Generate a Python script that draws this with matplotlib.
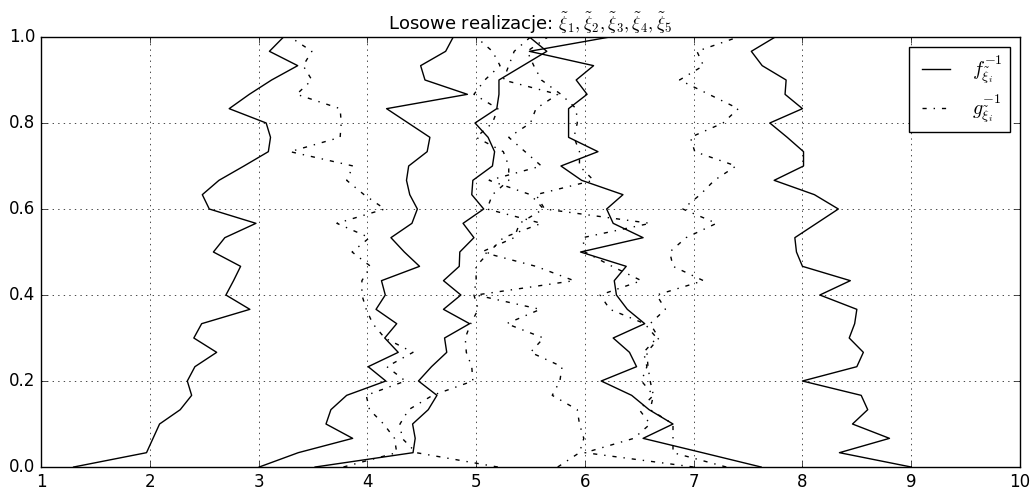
import numpy as np
import matplotlib
matplotlib.use('Agg')
import matplotlib.pyplot as plt

plt.style.use('classic')

# quantile levels (31 points from 0 to 1)
levels = np.linspace(0.0, 1.0, 31)

# inverse cdfs f^-1 (solid), one list per realization
f_inv_1 = [1.30, 1.97, 2.03, 2.09, 2.28, 2.385, 2.345, 2.415, 2.615, 2.405, 2.477,
           2.92, 2.70, 2.77, 2.835, 2.585, 2.69, 2.976, 2.547, 2.483, 2.636,
           2.866, 3.09, 3.11, 3.07, 2.73, 2.915, 3.12, 3.36, 3.10, 3.23]
f_inv_2 = [3.006, 3.365, 3.865, 3.62, 3.665, 3.81, 4.17, 4.008, 4.284, 4.16, 4.27,
           4.08, 4.165, 4.13, 4.48, 4.34, 4.217, 4.41, 4.46, 4.39, 4.36,
           4.38, 4.55, 4.575, 4.376, 4.177, 4.92, 4.53, 4.49, 4.72, 4.79]
f_inv_3 = [3.52, 4.42, 4.44, 4.416, 4.56, 4.64, 4.47, 4.59, 4.73, 4.71, 4.94,
           4.70, 4.86, 4.70, 4.845, 4.85, 4.98, 4.88, 5.07, 4.96, 4.97,
           5.15, 5.17, 5.11, 4.99, 5.19, 5.21, 5.21, 5.43, 5.65, 5.49]
f_inv_4 = [7.62, 7.08, 6.535, 6.81, 6.59, 6.43, 6.15, 6.475, 6.41, 6.26, 6.55,
           6.39, 6.29, 6.27, 6.38, 5.96, 6.535, 6.26, 6.20, 6.35, 5.97,
           5.78, 6.12, 5.85, 5.85, 5.85, 6.02, 5.92, 6.08, 5.49, 6.23]
f_inv_5 = [9.0, 8.34, 8.80, 8.46, 8.60, 8.54, 8.0, 8.50, 8.56, 8.43, 8.48,
           8.50, 8.16, 8.44, 8.0, 7.945, 7.93, 8.13, 8.33, 8.11, 7.74,
           8.01, 8.01, 7.86, 7.70, 8.0, 7.84, 7.85, 7.63, 7.53, 7.75]

# inverse cdfs g^-1 (dash-dot)
g_inv_1 = [3.78, 4.27, 4.25, 4.15, 4.02, 3.99, 4.35, 4.18, 4.42, 4.16, 4.05,
           3.99, 3.95, 3.95, 4.03, 3.86, 4.02, 3.72, 4.16, 3.97, 3.81,
           3.87, 3.29, 3.75, 3.76, 3.75, 3.35, 3.49, 3.41, 3.49, 3.29]
g_inv_2 = [5.2, 4.45, 4.32, 4.3, 4.38, 4.6, 4.97, 4.96, 4.91, 4.9, 4.95,
           5.02, 4.98, 5.0, 5.0, 5.12, 5.25, 5.6, 5.1, 5.15, 5.3,
           5.3, 5.25, 5.0, 5.15, 5.2, 4.98, 5.08, 5.22, 5.15, 5.0]
g_inv_3 = [5.75, 5.95, 5.99, 5.95, 5.93, 5.7, 5.77, 5.79, 5.5, 5.62, 5.28,
           5.59, 5.0, 5.9, 5.55, 5.05, 5.35, 5.4, 5.62, 5.5, 5.12,
           5.6, 5.45, 5.3, 5.5, 5.55, 5.75, 5.25, 5.3, 5.35, 5.5]
g_inv_4 = [7.0, 6.0, 6.45, 6.6, 6.5, 6.63, 6.52, 6.57, 6.54, 6.66, 6.55,
           6.23, 6.14, 6.52, 6.25, 6.0, 5.98, 6.6, 5.63, 5.55, 6.08,
           5.95, 5.95, 5.9, 5.93, 5.92, 5.78, 5.6, 5.53, 5.47, 5.66]
g_inv_5 = [7.3, 6.81, 6.81, 6.81, 6.60, 6.63, 6.6, 6.58, 6.57, 6.68, 6.60,
           6.74, 6.66, 7.09, 6.81, 6.78, 6.93, 7.21, 6.90, 7.06, 7.19,
           7.39, 7.01, 6.97, 7.27, 7.41, 7.14, 6.87, 7.09, 7.03, 7.41]

f_series = [f_inv_1, f_inv_2, f_inv_3, f_inv_4, f_inv_5]
g_series = [g_inv_1, g_inv_2, g_inv_3, g_inv_4, g_inv_5]

fig = plt.figure(figsize=(10.3, 4.88), dpi=100, facecolor='w')
ax = fig.add_axes([0.0398, 0.043, 0.9505, 0.8812])

for i, (f, g) in enumerate(zip(f_series, g_series)):
    ax.plot(f, levels, 'k-', label=r'$f_{\tilde{\xi}_i}^{-1}$' if i == 0 else None)
    ax.plot(g, levels, 'k-.', label=r'$g_{\tilde{\xi}_i}^{-1}$' if i == 0 else None)

ax.set_xlim(1, 10)
ax.set_ylim(0, 1)
ax.grid(True)
ax.set_title(r'Losowe realizacje: $\tilde{\xi}_1, \tilde{\xi}_2, \tilde{\xi}_3, \tilde{\xi}_4, \tilde{\xi}_5$',
             fontsize=13)
ax.legend(loc='upper right', labelspacing=0.3, borderpad=0.35)

fig.savefig('out.png', dpi=100, facecolor='w')
